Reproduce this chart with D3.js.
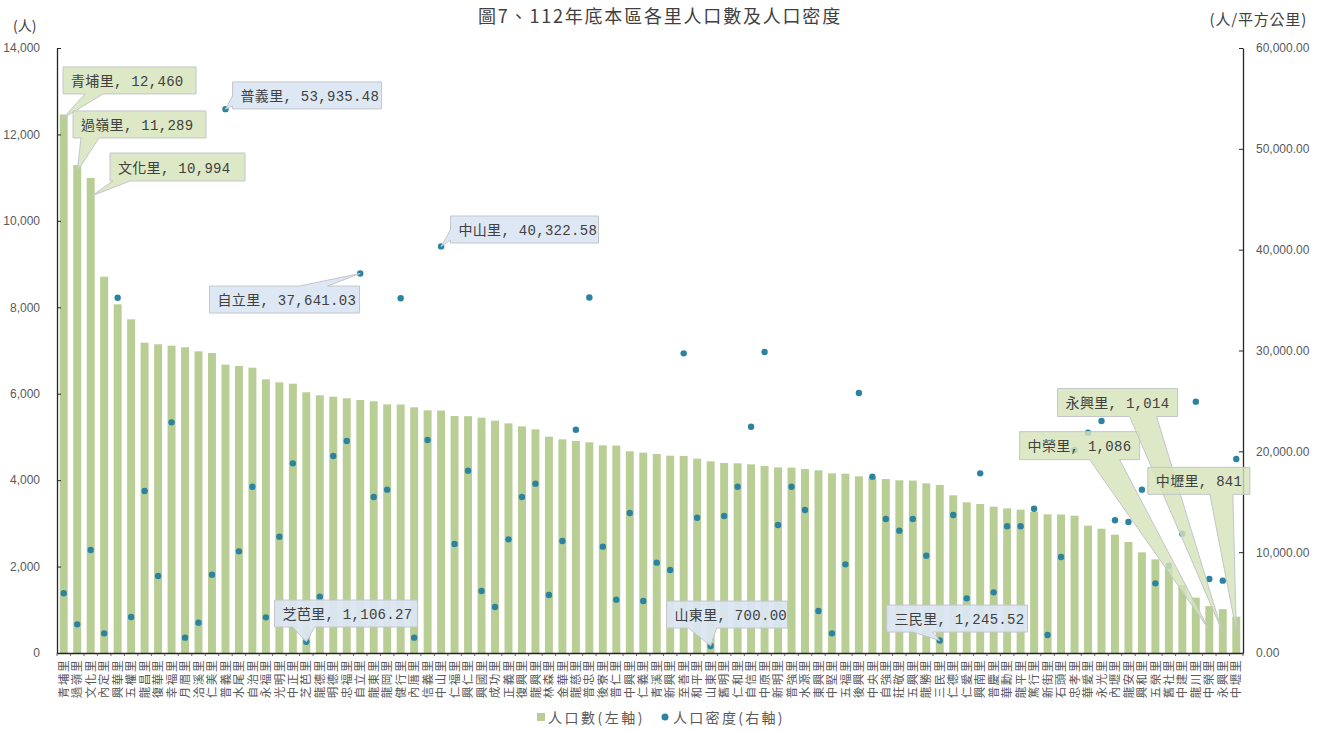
<!DOCTYPE html>
<html><head><meta charset="utf-8">
<script src="https://cdn.jsdelivr.net/npm/d3@7"></script>
<style>
body{margin:0;background:#fff;}
svg{display:block;font-family:"Noto Sans CJK TC","Noto Sans",sans-serif;}
</style>
</head><body>
<svg id="chart" width="1326" height="731"></svg>
<script>
// ---------------- data ----------------
const villages = ["青埔里","過嶺里","文化里","內定里","興華里","五權里","龍昌里","復華里","幸福里","月眉里",
"洽溪里","仁美里","普義里","水尾里","自治里","永福里","光明里","中正里","芝芭里","龍德里",
"明德里","忠福里","自立里","龍東里","龍岡里","健行里","內厝里","信義里","中山里","仁福里",
"興仁里","興國里","成功里","正義里","復興里","龍興里","林森里","金華里","龍慈里","普忠里",
"後寮里","普仁里","中興里","仁義里","青溪里","新興里","至善里","和平里","山東里","舊明里",
"仁和里","自信里","中原里","新明里","普強里","水源里","東興里","中堅里","五福里","後興里",
"中央里","自強里","莊敬里","五興里","龍勝里","三民里","仁德里","仁愛里","興南里","普慶里",
"華勳里","龍平里","篤行里","新街里","石頭里","忠孝里","華愛里","永光里","內壢里","龍安里",
"興和里","五榮里","舊社里","中建里","龍川里","中榮里","永興里","中壢里"];
const population = [12460,11289,10994,8708,8069,7722,7181,7143,7112,7074,
6981,6942,6671,6641,6602,6333,6264,6232,6033,5963,
5931,5894,5854,5824,5754,5750,5685,5616,5610,5484,
5480,5446,5376,5314,5245,5176,5006,4944,4906,4875,
4805,4800,4667,4636,4605,4566,4560,4497,4435,4397,
4390,4366,4327,4296,4290,4258,4227,4157,4150,4088,
4065,4026,3996,3990,3926,3888,3649,3487,3448,3386,
3347,3317,3270,3209,3205,3178,2946,2877,2738,2569,
2329,2167,1998,1574,1280,1086,1014,841];
const density = [5920,2843,10215,1950,35238,3570,16066,7636,22876,1520,
3008,7768,53935.48,10083,16495,3537,11537,18810,1106.27,5586,
19537,21024,37641.03,15470,16198,35180,1520,21123,40322.58,10810,
18082,6149,4562,11273,15470,16793,5752,11107,22147,35260,
10545,5289,13884,5157,8958,8231,29718,13420,700.00,13586,
16495,22443,29850,12694,16495,14181,4165,1950,8792,25784,
17487,13289,12133,13289,9652,1245.52,13685,5421,17818,6017,
12563,12563,14313,1785,9520,20132,21851,23007,13158,12991,
16198,6909,8660,11835,24925,7339,7173,19239];
const popTicks = [0,2000,4000,6000,8000,10000,12000,14000];
const densTicks = [0,10000,20000,30000,40000,50000,60000];
const titleText = "圖7、112年底本區各里人口數及人口密度";
const leftUnit = "(人)";
const rightUnit = "(人/平方公里)";
const legendLabels = ["人口數(左軸)","人口密度(右軸)"];

// callouts: which point they describe (layout offsets relative to the data anchor)
const callouts = [
  {series:"pop",  name:"青埔里", dx:-0.7,  dy:-47.6, w:133, h:27, side:"bottom", a:22, b:40,  tdx:-1, tdy:4},
  {series:"pop",  name:"過嶺里", dx:-4.2,  dy:-54.2, w:133, h:27, side:"bottom", a:8,  b:26,  tdx:0,  tdy:6},
  {series:"pop",  name:"文化里", dx:19.3,  dy:-24.9, w:135, h:28, side:"bottom", a:3,  b:20,  tdx:1,  tdy:18},
  {series:"dens", name:"普義里", dx:7.1,   dy:-27.2, w:149, h:27, side:"left",   a:14, b:24,  tdx:0,  tdy:0},
  {series:"dens", name:"中山里", dx:9.4,   dy:-30.4, w:148, h:27, side:"left",   a:14, b:24,  tdx:0,  tdy:0},
  {series:"dens", name:"自立里", dx:-150.7,dy:12.6,  w:150, h:27, side:"top",    a:90, b:118, tdx:0,  tdy:0},
  {series:"dens", name:"芝芭里", dx:-31.8, dy:-41.8, w:143, h:27, side:"bottom", a:18, b:40,  tdx:0,  tdy:0},
  {series:"dens", name:"山東里", dx:-44.1, dy:-44.9, w:121, h:27, side:"bottom", a:22, b:50,  tdx:0,  tdy:0},
  {series:"dens", name:"三民里", dx:-53.2, dy:-35.4, w:141, h:27, side:"bottom", a:26, b:46,  tdx:0,  tdy:0},
  {series:"pop",  name:"中榮里", dx:-189.7,dy:-174.4,w:120, h:28, side:"bottom", a:70, b:100, tdx:0,  tdy:24},
  {series:"pop",  name:"永興里", dx:-165.2,dy:-220.7,w:120, h:28, side:"bottom", a:72, b:99,  tdx:-1, tdy:21},
  {series:"pop",  name:"中壢里", dx:-88.4, dy:-149.3,w:102, h:27, side:"bottom", a:62, b:85,  tdx:0,  tdy:14}
];

// ---------------- layout ----------------
const W = 1326, H = 731;
const plot = {left:57, right:1243, top:48, bottom:653};
const barColor = "#b9ce95";
const dotColor = "#2c83a0";
const textGrey = "#595959";

const svg = d3.select("#chart");
svg.append("rect").attr("width",W).attr("height",H).attr("fill","#fff");

const idx = d3.range(villages.length);
const x = d3.scaleBand().domain(idx).range([plot.left, plot.right]).paddingInner(0.41).paddingOuter(0.205);
const step = x.step();
const yL = d3.scaleLinear().domain([0,14000]).range([plot.bottom, plot.top]);
const yR = d3.scaleLinear().domain([0,60000]).range([plot.bottom, plot.top]);
const cx = i => x(i) + x.bandwidth()/2;

// bars
svg.append("g").selectAll("rect").data(idx).join("rect")
  .attr("x", i => x(i)).attr("width", x.bandwidth())
  .attr("y", i => yL(population[i]))
  .attr("height", i => plot.bottom - yL(population[i]))
  .attr("fill", barColor);

// dots
svg.append("g").selectAll("circle").data(idx).join("circle")
  .attr("cx", i => cx(i)).attr("cy", i => yR(density[i]))
  .attr("r", 3.2).attr("fill", dotColor);

// axes
const gL = svg.append("g").attr("transform",`translate(${plot.left},0)`)
  .call(d3.axisLeft(yL).tickValues(popTicks).tickFormat(d3.format(",")).tickSizeInner(-4).tickSizeOuter(0).tickPadding(17));
const gR = svg.append("g").attr("transform",`translate(${plot.right},0)`)
  .call(d3.axisRight(yR).tickValues(densTicks).tickFormat(d3.format(",.2f")).tickSizeInner(-4).tickSizeOuter(0).tickPadding(13));
[gL,gR].forEach(g=>{
  g.select(".domain").attr("stroke","#262626").attr("stroke-width",1.3);
  g.selectAll(".tick line").attr("stroke","#262626");
  g.selectAll(".tick text").attr("fill",textGrey).style("font-family","'Liberation Sans',sans-serif").style("font-size","12px");
});

// category axis
const gB = svg.append("g").attr("transform",`translate(0,${plot.bottom})`)
  .call(d3.axisBottom(x).tickSize(0).tickPadding(0).tickFormat(i => villages[i]));
gB.select(".domain").attr("stroke","#262626").attr("stroke-width",1.3);
gB.selectAll(".tick text")
  .attr("transform","rotate(-90)")
  .attr("x",-6).attr("dy","0.36em").attr("y",0)
  .attr("text-anchor","end")
  .attr("fill",textGrey)
  .style("font-size","11.5px").style("letter-spacing","1.6px")
  .style("font-family","'Noto Sans CJK TC',sans-serif");
// small tick marks between categories
const bounds = idx.map(i => x(i) - (step - x.bandwidth())/2).concat([plot.right]);
svg.append("g").selectAll("line").data(bounds).join("line")
  .attr("x1",d=>d).attr("x2",d=>d).attr("y1",plot.bottom).attr("y2",plot.bottom+3)
  .attr("stroke","#404040").attr("stroke-width",0.8);

// unit labels & title
svg.append("text").attr("x",13).attr("y",31).text(leftUnit)
  .attr("fill","#404040").style("font-size","14px");
svg.append("text").attr("x",1307).attr("y",25).attr("text-anchor","end").text(rightUnit)
  .attr("fill","#404040").style("font-size","15px").style("letter-spacing","0.8px");
svg.append("text").attr("x",660).attr("y",23).attr("text-anchor","middle").text(titleText)
  .attr("fill","#404040").style("font-size","18px").style("letter-spacing","1.8px");

// legend
const lg = svg.append("g");
lg.append("rect").attr("x",537).attr("y",713).attr("width",8).attr("height",8).attr("fill",barColor);
lg.append("text").attr("x",548).attr("y",723).text(legendLabels[0]).attr("fill",textGrey).style("font-size","14px").style("letter-spacing","2.5px");
lg.append("circle").attr("cx",665).attr("cy",717).attr("r",3.5).attr("fill",dotColor);
lg.append("text").attr("x",673).attr("y",723).text(legendLabels[1]).attr("fill",textGrey).style("font-size","14px").style("letter-spacing","2.3px");

// callouts
const fmtPop = d3.format(",");
const fmtDen = d3.format(",.2f");
function calloutPath(bx,by,w,h,side,a,b,tx,ty){
  if(side==="bottom") return `M${bx},${by}H${bx+w}V${by+h}H${bx+b}L${tx},${ty}L${bx+a},${by+h}H${bx}Z`;
  if(side==="top") return `M${bx},${by}H${bx+a}L${tx},${ty}L${bx+b},${by}H${bx+w}V${by+h}H${bx}Z`;
  return `M${bx},${by}H${bx+w}V${by+h}H${bx}V${by+b}L${tx},${ty}L${bx},${by+a}Z`;
}
const cg = svg.append("g");
callouts.forEach(c=>{
  const i = villages.indexOf(c.name);
  const ax = cx(i);
  const ay = c.series==="pop" ? yL(population[i]) : yR(density[i]);
  const bx = ax + c.dx, by = ay + c.dy;
  const green = c.series==="pop";
  cg.append("path")
    .attr("d", calloutPath(bx,by,c.w,c.h,c.side,c.a,c.b,ax+c.tdx,ay+c.tdy))
    .attr("fill", green ? "#d5e3b9" : "#dbe6f3")
    .attr("fill-opacity", green ? 0.82 : 0.92)
    .attr("stroke", "#c3c6c9").attr("stroke-width",1);
  const label = c.name + ", " + (green ? fmtPop(population[i]) : fmtDen(density[i]));
  cg.append("text").attr("x",bx+8).attr("y",by+c.h/2+5.5).text(label)
    .attr("fill","#404040")
    .style("font-family","'Liberation Mono','Noto Sans CJK TC',monospace")
    .style("font-size","14px").style("letter-spacing","0.3px");
});
</script>
</body></html>
